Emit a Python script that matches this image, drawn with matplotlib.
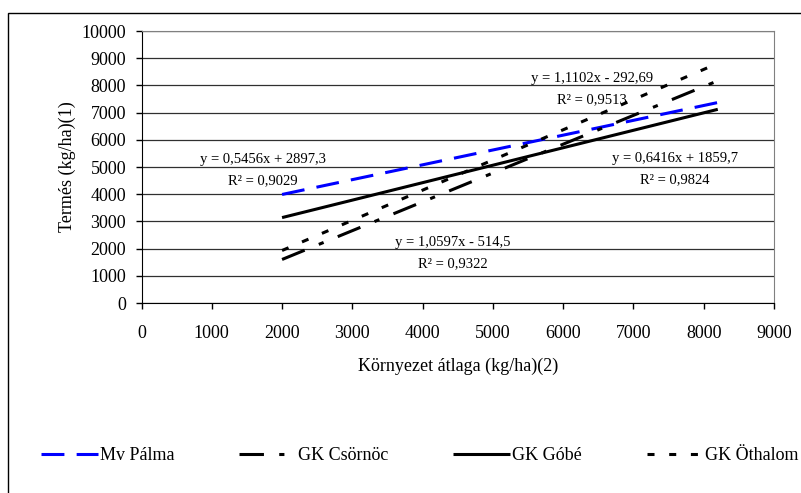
import matplotlib
matplotlib.use("Agg")
import matplotlib.pyplot as plt
from matplotlib.patches import Rectangle

plt.rcParams['font.family'] = ['Liberation Serif', 'DejaVu Serif']

# trend line end points (kg/ha)
x_ends = [2000, 8200]
palma = [3990, 7370]
csornoc = [1600, 8170]
gobe = [3140, 7120]
othalom = [1930, 8810]

names = ["Mv Pálma", "GK Csörnöc", "GK Góbé", "GK Öthalom"]
equations = ["y = 0,5456x + 2897,3", "y = 1,0597x - 514,5",
             "y = 0,6416x + 1859,7", "y = 1,1102x - 292,69"]
r2_values = ["0,9029", "0,9322", "0,9824", "0,9513"]
# where each equation sits (data coords)
eq_pos = [(1730, 5290), (4430, 2240), (7590, 5330), (6410, 8270)]

W, H = 801, 493
fig = plt.figure(figsize=(W / 100, H / 100), dpi=100)

# outer chart frame, only left/top edges fall inside the image
fig.patches.append(Rectangle((8 / W, -0.05), 1.1, 1 - 13 / H + 0.05,
                             transform=fig.transFigure, fill=False,
                             edgecolor='black', linewidth=1.0))

ax = fig.add_axes([141.5 / W, 1 - 303 / H, (774 - 141.5) / W, (303 - 31) / H])

lw = 2.2
ax.plot(x_ends, palma, color='#0000ff', linewidth=lw, dashes=(7.5, 4),
        dash_capstyle='butt', label=names[0])
ax.plot(x_ends, csornoc, color='black', linewidth=lw, dashes=(8, 5, 1.7, 5),
        dash_capstyle='butt', label=names[1])
ax.plot(x_ends, gobe, color='black', linewidth=lw, solid_capstyle='butt',
        label=names[2])
ax.plot(x_ends, othalom, color='black', linewidth=lw, dashes=(2.3, 4.8),
        dash_capstyle='butt', label=names[3])

ax.set_xlim(0, 9000)
ax.set_ylim(0, 10000)
ax.set_xticks(range(0, 9001, 1000))
ax.set_yticks(range(0, 10001, 1000))
ax.yaxis.grid(True, color='#303030', linewidth=0.9)
ax.set_axisbelow(True)
ax.tick_params(labelsize=13, length=4, width=1, direction='out', color='black')
ax.tick_params(axis='x', pad=12)
ax.tick_params(axis='y', pad=7)
for s in ['top', 'right']:
    ax.spines[s].set_color('#808080')
for s in ['left', 'bottom']:
    ax.spines[s].set_color('black')

for (ex, ey), eq, r2 in zip(eq_pos, equations, r2_values):
    ax.text(ex, ey, eq, fontsize=10.5, ha='center', va='center')
    ax.text(ex, ey - 780, "R² = " + r2, fontsize=10.5, ha='center', va='center')

fig.text(67 / W, 1 - 167 / H, "Termés (kg/ha)(1)", rotation=90, fontsize=13,
         ha='center', va='center')
fig.text(458 / W, 1 - 366 / H, "Környezet átlaga (kg/ha)(2)", fontsize=13,
         ha='center', va='center')

fig.legend(loc='center left', bbox_to_anchor=(41 / W, 1 - 456 / H), ncol=4,
           frameon=False, fontsize=13, handlelength=3.15, handletextpad=0.1,
           columnspacing=3.6, borderpad=0, borderaxespad=0)

fig.savefig("out.png", dpi=100)
